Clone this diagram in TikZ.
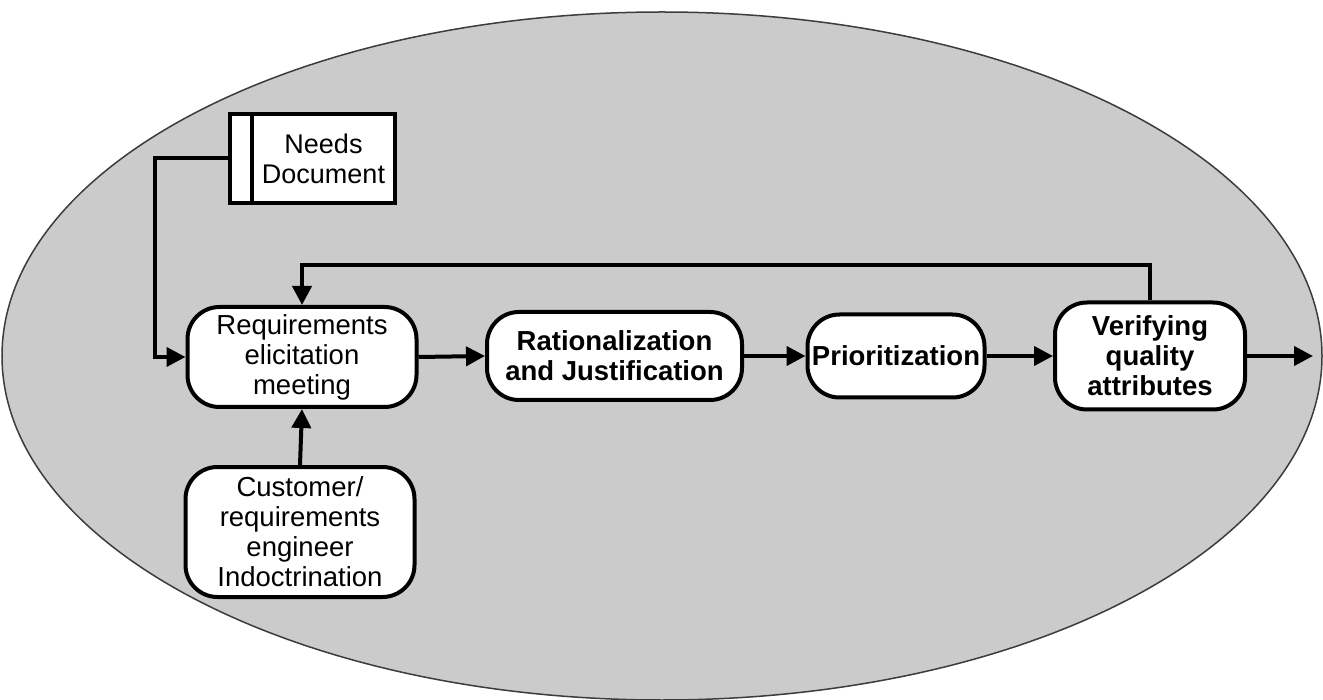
\documentclass[tikz,border=0pt]{standalone}
\usepackage{fontspec}
\setmainfont{Liberation Sans}
\usetikzlibrary{arrows.meta}
\definecolor{bggray}{RGB}{203,203,203}
\definecolor{rimgray}{RGB}{60,60,60}
\begin{document}
\begin{tikzpicture}[x=1pt,y=-1pt,
  proc/.style={draw=black, fill=white, line width=4pt, rounded corners=32pt,
    align=center, inner sep=0pt, font=\fontsize{27.5}{30}\selectfont},
  boldproc/.style={proc, font=\fontsize{27.5}{30}\selectfont\bfseries},
  arr/.style={line width=4pt, -{Triangle[length=19pt,width=19pt]}}
]
\useasboundingbox (0,0) rectangle (1323,700);

% enclosing region
\fill[bggray] (662,356) ellipse [x radius=660pt, y radius=344pt];
\draw[rimgray, line width=1.5pt] (662,356) ellipse [x radius=660pt, y radius=344pt];

% data store: needs document
\node[draw=black, fill=white, line width=4pt, minimum width=165pt, minimum height=89pt,
  inner sep=0pt] (needs) at (312.5,158.5) {};
\draw[line width=4pt] (252,114) -- (252,203);
\node[align=center, font=\fontsize{27}{30}\selectfont] (needstext) at (323.5,158.5) {Needs\\Document};

% process steps
\node[proc, minimum width=229pt, minimum height=100pt] (req) at (302,357)
  {Requirements\\elicitation\\meeting};
\node[proc, minimum width=229pt, minimum height=130pt] (cust) at (300,532)
  {Customer/\\requirements\\engineer\\Indoctrination};
\node[boldproc, minimum width=255pt, minimum height=88pt] (rat) at (614.5,356)
  {Rationalization\\and Justification};
\node[boldproc, minimum width=177pt, minimum height=83pt] (pri) at (896,356)
  {Prioritization};
\node[boldproc, minimum width=190pt, minimum height=107pt] (ver) at (1150,356)
  {Verifying\\quality\\attributes};
\coordinate (out) at (1313,356);

% connectors
\draw[arr] (needs.west) -- ++(-73,0) |- (req.west);
\draw[arr] (cust.north) -- (req.south);
\draw[arr] (req.east) -- (rat.west);
\draw[arr] (rat.east) -- (pri.west);
\draw[arr] (pri.east) -- (ver.west);
\draw[arr] (ver.east) -- (out);
\draw[arr] (ver.north) -- (ver.north |- 0,265) -| (req.north);
\end{tikzpicture}
\end{document}
